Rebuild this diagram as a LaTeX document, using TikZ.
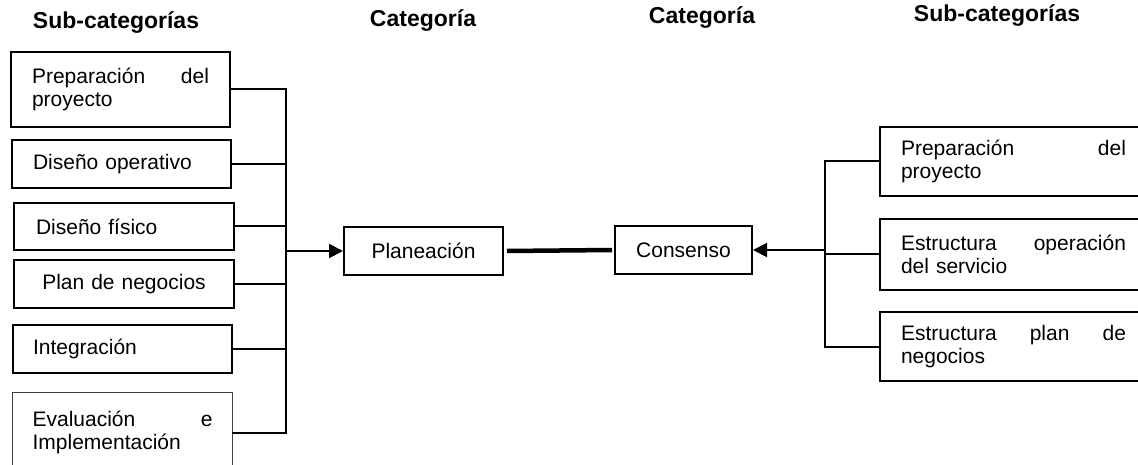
\documentclass[tikz,border=0pt]{standalone}
\usepackage{fontspec}
\setmainfont{Liberation Sans}
\usetikzlibrary{arrows.meta}

\tikzset{
  box/.style={draw=black, line width=2pt, rectangle, anchor=north west,
    inner xsep=21pt, inner ysep=0pt, align=left,
    font=\fontsize{21}{23.5}\selectfont},
  catbox/.style={draw=black, line width=2pt, rectangle, anchor=north west,
    inner sep=0pt, align=center, font=\fontsize{21}{23.5}\selectfont},
  header/.style={anchor=base, inner sep=0pt, font=\fontsize{23}{26}\selectfont\bfseries},
  conn/.style={line width=2pt, line cap=rect},
  arr/.style={line width=2pt, -{Triangle[length=14pt,width=14pt]}},
  link/.style={line width=4.5pt},
}

\begin{document}
\begin{tikzpicture}[x=1pt, y=-1pt]
  \useasboundingbox (0,0) rectangle (1138,465);
  \fill[white] (0,0) rectangle (1138,465);
  \clip (0,0) rectangle (1138,465);

  % column headings
  \node[header] (h1) at (116,29) {Sub-categorías};
  \node[header] (h2) at (423,27) {Categoría};
  \node[header] (h3) at (702,24) {Categoría};
  \node[header] (h4) at (997,22) {Sub-categorías};

  % left sub-categories
  \node[box, minimum width=219pt, minimum height=75pt, text width=177pt] (l1) at (10,51)
    {Preparación\hfill del\\proyecto};
  \node[box, minimum width=219pt, minimum height=48pt, text width=177pt] (l2) at (11,139)
    {Diseño operativo};
  \node[box, minimum width=220pt, minimum height=47pt, text width=176pt, inner xsep=22pt] (l3) at (13,202)
    {Diseño físico};
  \node[box, minimum width=220pt, minimum height=48pt, text width=178pt, align=center] (l4) at (13,259)
    {Plan de negocios};
  \node[box, minimum width=219pt, minimum height=48pt, text width=179pt, inner xsep=20pt] (l5) at (12,324)
    {Integración};
  \node[box, draw=black!75, line width=1.2pt, minimum width=220pt, minimum height=80pt,
        text width=180pt, inner xsep=20pt] (l6) at (12,392)
    {Evaluación\hfill e\\Implementación};

  % categories
  \node[catbox, minimum width=159pt, minimum height=48pt] (plan) at (343,226) {Planeación};
  \node[catbox, minimum width=137pt, minimum height=48pt] (cons) at (614,225) {Consenso};

  % right sub-categories (run past the right edge)
  \node[box, minimum width=267pt, minimum height=69pt, text width=225pt] (r1) at (879,126)
    {Preparación\hfill del\\proyecto};
  \node[box, minimum width=267pt, minimum height=71pt, text width=225pt] (r2) at (879,218)
    {Estructura\hfill operación\\del servicio};
  \node[box, minimum width=267pt, minimum height=69pt, text width=225pt] (r3) at (879,311)
    {Estructura\hfill plan\hfill de\\negocios};

  % bus lines
  \coordinate (lbus) at (286,0);
  \coordinate (rbus) at (825,0);

  \foreach \n in {l1,l2,l3,l4,l5,l6}
    \draw[conn] (\n.east) -- (\n.east -| lbus);
  \draw[conn] (l1.east -| lbus) -- (l6.east -| lbus);
  \draw[arr] (plan.west -| lbus) -- (plan.west);

  \foreach \n in {r1,r2,r3}
    \draw[conn] (\n.west) -- (\n.west -| rbus);
  \draw[conn] (r1.west -| rbus) -- (r3.west -| rbus);
  \draw[arr] (cons.east -| rbus) -- (cons.east);

  % link between the two categories
  \draw[link] ([xshift=3pt]plan.east) -- ([xshift=-2pt]cons.west);
\end{tikzpicture}
\end{document}
